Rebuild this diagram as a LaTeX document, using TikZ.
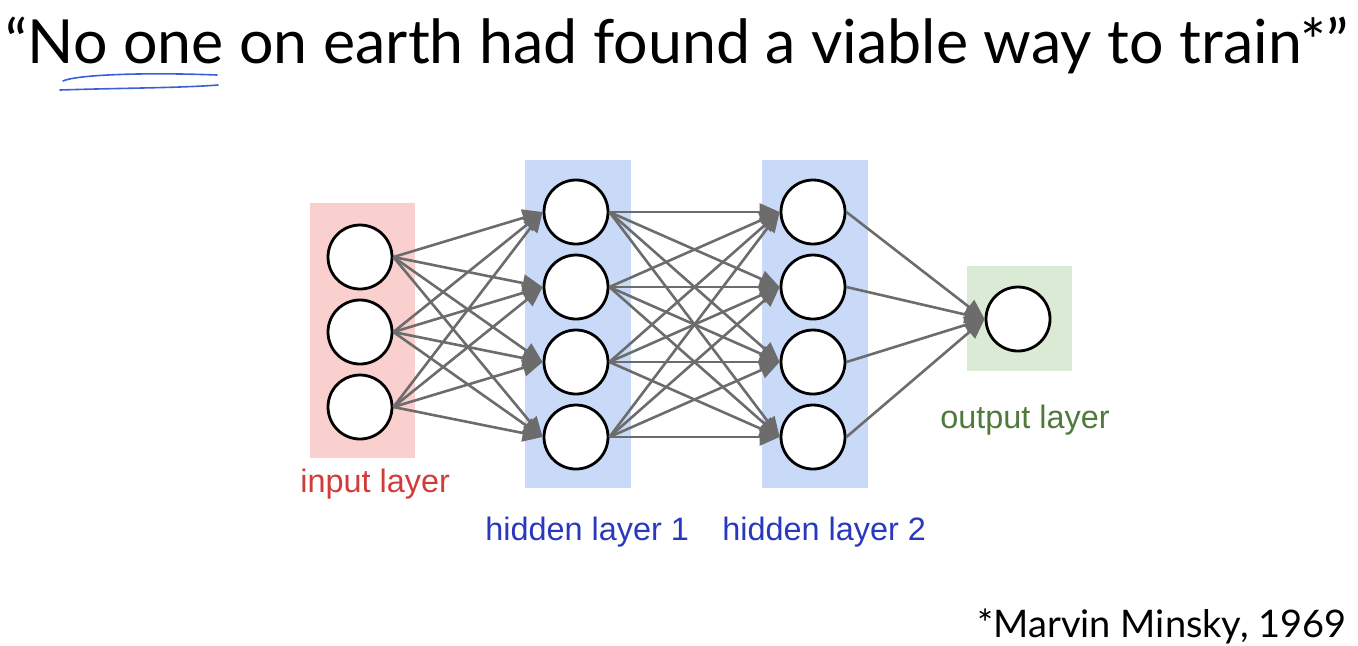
\documentclass[tikz,border=0pt]{standalone}
\usepackage{fontspec}
\usepackage{graphicx}
\usetikzlibrary{arrows.meta}
\setmainfont{Lato}
\newfontfamily\labelfont{Liberation Sans}
\definecolor{inbox}{RGB}{249,208,206}
\definecolor{hidbox}{RGB}{201,218,249}
\definecolor{outbox}{RGB}{218,234,212}
\definecolor{inred}{RGB}{208,60,58}
\definecolor{hidblue}{RGB}{42,56,190}
\definecolor{outgreen}{RGB}{80,122,60}
\definecolor{wiregray}{RGB}{108,108,108}
\definecolor{penblue}{RGB}{58,95,215}
\tikzstyle{neuron} = [circle, draw=black, line width=1.4pt, fill=white, minimum size=32pt, inner sep=0pt]
\tikzstyle{wire} = [draw=wiregray, line width=1.3pt, -{Triangle[length=10pt,width=8.5pt]}]
\tikzstyle{tag} = [font=\labelfont\fontsize{16.2pt}{19pt}\selectfont, inner sep=0pt, anchor=base west]
\tikzstyle{pen} = [penblue, line width=0.8pt, line cap=round]

\begin{document}
\begin{tikzpicture}[x=0.5pt, y=-0.5pt]
  \useasboundingbox (0,0) rectangle (1358,645);
  % layer backgrounds
  \fill[inbox] (310,203) rectangle (415,458);
  \fill[hidbox] (525,160) rectangle (631,488);
  \fill[hidbox] (762,160) rectangle (868,488);
  \fill[outbox] (967,266) rectangle (1072,371);
  % title and note
  \node (title) at (5,63) [anchor=base west, inner sep=0pt] {\resizebox{671.5pt}{!}{“No one on earth had found a viable way to train*”}};
  \node (note) at (1347,637) [anchor=base east, inner sep=0pt] {\resizebox{184.5pt}{!}{*Marvin Minsky, 1969}};
  \draw[pen] (63,81) .. controls (75,75) and (140,72) .. (217,75);
  \draw[pen] (60,90) .. controls (120,88) and (180,88) .. (218,85);
  % neurons
  \node (i1) at (360,257) [neuron] {};
  \node (i2) at (360,332) [neuron] {};
  \node (i3) at (360,407) [neuron] {};
  \node (h1) at (576,212) [neuron] {};
  \node (h2) at (576,287) [neuron] {};
  \node (h3) at (576,362) [neuron] {};
  \node (h4) at (576,437) [neuron] {};
  \node (g1) at (813,212) [neuron] {};
  \node (g2) at (813,287) [neuron] {};
  \node (g3) at (813,362) [neuron] {};
  \node (g4) at (813,437) [neuron] {};
  \node (o) at (1018,319) [neuron] {};
  % labels
  \node (inlabel) at (300,492) [tag, text=inred] {input layer};
  \node (h1label) at (485,540) [tag, text=hidblue] {hidden layer 1};
  \node (h2label) at (722,540) [tag, text=hidblue] {hidden layer 2};
  \node (outlabel) at (940,428) [tag, text=outgreen] {output layer};
  % input -> hidden 1
  \draw [wire] (i1.east) to (h1.west);
  \draw [wire] (i1.east) to (h2.west);
  \draw [wire] (i1.east) to (h3.west);
  \draw [wire] (i1.east) to (h4.west);
  \draw [wire] (i2.east) to (h1.west);
  \draw [wire] (i2.east) to (h2.west);
  \draw [wire] (i2.east) to (h3.west);
  \draw [wire] (i2.east) to (h4.west);
  \draw [wire] (i3.east) to (h1.west);
  \draw [wire] (i3.east) to (h2.west);
  \draw [wire] (i3.east) to (h3.west);
  \draw [wire] (i3.east) to (h4.west);
  % hidden 1 -> hidden 2
  \draw [wire] (h1.east) to (g1.west);
  \draw [wire] (h1.east) to (g2.west);
  \draw [wire] (h1.east) to (g3.west);
  \draw [wire] (h1.east) to (g4.west);
  \draw [wire] (h2.east) to (g1.west);
  \draw [wire] (h2.east) to (g2.west);
  \draw [wire] (h2.east) to (g3.west);
  \draw [wire] (h2.east) to (g4.west);
  \draw [wire] (h3.east) to (g1.west);
  \draw [wire] (h3.east) to (g2.west);
  \draw [wire] (h3.east) to (g3.west);
  \draw [wire] (h3.east) to (g4.west);
  \draw [wire] (h4.east) to (g1.west);
  \draw [wire] (h4.east) to (g2.west);
  \draw [wire] (h4.east) to (g3.west);
  \draw [wire] (h4.east) to (g4.west);
  % hidden 2 -> output
  \draw [wire] (g1.east) to (o.west);
  \draw [wire] (g2.east) to (o.west);
  \draw [wire] (g3.east) to (o.west);
  \draw [wire] (g4.east) to (o.west);
\end{tikzpicture}
\end{document}
